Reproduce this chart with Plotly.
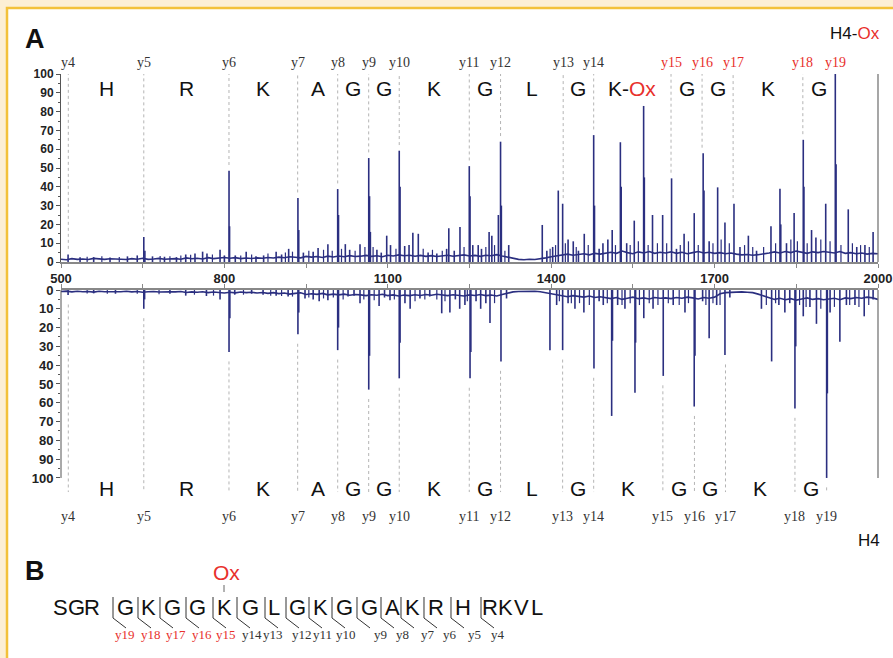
import plotly.graph_objects as go

W, H = 893, 658

# ---------------- data ----------------
base_mz = list(range(500, 2001, 10))
top_base_int = [1.5, 1.2, 1.8, 1.4, 1.6, 1.3, 1.9, 1.5, 1.4, 1.7, 1.5,
                1.6, 1.3, 1.8, 1.5, 2.0, 1.4, 1.6, 1.9, 1.5, 1.7,
                1.8, 1.5, 2.2, 1.7, 2.0, 1.6, 2.3, 1.8, 2.1, 2.4,
                2.0, 2.3, 1.8, 2.1, 1.9, 2.2, 2.0, 2.4, 2.1, 2.6,
                2.3, 2.8, 2.5, 2.2, 3.0, 2.6, 2.9, 2.4, 3.1, 2.7,
                3.2, 2.8, 3.4, 2.9, 3.1, 3.5, 3.0, 3.3, 2.8, 3.6,
                3.2, 3.8, 3.3, 3.6, 3.1, 3.5, 3.0, 3.4, 2.9, 3.3,
                3.6, 3.1, 3.4, 3.8, 3.2, 3.5, 3.0, 3.6, 3.3, 3.9,
                3.2, 2.6, 1.8, 1.4, 1.2, 1.5, 1.3, 1.6, 2.2, 2.8,
                3.4, 3.8, 4.2, 3.6, 4.0, 4.4, 3.8, 4.6, 4.2, 4.8,
                5.2, 4.6, 5.8, 5.0, 4.4, 5.4, 4.8, 5.6, 4.6, 5.2,
                4.8, 5.4, 4.6, 5.2, 4.4, 5.0, 5.6, 4.8, 5.2, 4.6,
                5.0, 4.4, 4.8, 4.2, 3.8, 4.0, 3.6, 3.9, 4.2, 4.8,
                5.4, 4.8, 5.6, 5.0, 5.8, 5.2, 4.6, 5.4, 5.0, 5.6,
                5.2, 4.8, 5.6, 4.6, 5.0, 4.4, 4.8, 4.2, 4.6, 4.4]
bot_base_int = [0.8, 0.6, 1.0, 0.7, 0.9, 0.8, 1.1, 0.7, 0.9, 1.0, 0.8,
                0.9, 0.7, 1.0, 0.8, 1.2, 0.9, 0.8, 1.1, 0.9, 1.0,
                1.0, 0.8, 1.3, 1.0, 1.2, 0.9, 1.4, 1.1, 1.3, 1.6,
                1.2, 1.5, 1.1, 1.4, 1.2, 1.6, 1.3, 1.8, 1.4, 1.9,
                1.6, 2.2, 1.8, 1.5, 2.4, 2.0, 2.3, 1.8, 2.6, 2.2,
                2.6, 2.2, 2.8, 2.4, 2.6, 3.0, 2.5, 2.8, 2.3, 3.0,
                2.6, 3.2, 2.7, 3.0, 2.5, 2.9, 2.4, 2.8, 2.3, 2.7,
                3.0, 2.5, 2.8, 3.2, 2.6, 2.9, 2.4, 3.0, 2.7, 3.2,
                2.4, 1.6, 1.0, 0.8, 0.7, 0.8, 0.7, 0.9, 1.4, 2.2,
                2.8, 3.2, 3.6, 3.0, 3.4, 3.8, 3.2, 4.0, 3.6, 4.2,
                4.6, 4.0, 5.0, 4.4, 3.8, 4.6, 4.2, 4.8, 4.0, 4.4,
                4.2, 4.6, 4.0, 4.4, 3.8, 4.2, 4.8, 4.0, 4.4, 3.8,
                2.0, 1.4, 1.2, 1.0, 1.0, 1.2, 1.4, 2.2, 3.2, 4.2,
                5.0, 4.4, 5.2, 4.6, 5.4, 4.8, 4.2, 5.0, 4.6, 5.2,
                4.8, 4.4, 5.2, 4.2, 4.6, 4.0, 4.4, 3.8, 4.2, 5.0]

top_peak_mz = [513, 535, 560, 590, 622, 640, 652, 654, 668, 690, 712, 729, 746, 760, 768, 792, 800,
               808.5, 809.5, 820, 840, 858, 872, 895, 905, 918, 935, 936.5, 945, 963, 972, 990,
               1008, 1009.5, 1022, 1030, 1049, 1065, 1066.5, 1068, 1080, 1088, 1098, 1105, 1121,
               1122.5, 1131, 1139, 1146, 1156, 1174, 1190, 1208, 1212, 1222, 1232.5, 1249.6, 1251,
               1256, 1266, 1272, 1286, 1291, 1303, 1307, 1308.5, 1322, 1383.6, 1392, 1402.7, 1413,
               1421, 1431, 1440.5, 1450, 1460.7, 1478, 1479.5, 1488, 1495, 1504, 1512, 1527, 1528.5,
               1538.6, 1552.5, 1569.7, 1571, 1586, 1604.6, 1621, 1630, 1644, 1662.6, 1679, 1680.5,
               1690, 1705.6, 1719, 1735.6, 1746.6, 1762, 1777, 1803.5, 1820, 1821.5, 1832, 1846,
               1862.8, 1864, 1878, 1886, 1904, 1921.6, 1923, 1945.4, 1961, 1976, 1991]
top_peak_int = [4, 2.5, 2.6, 2.4, 3, 3.5, 13.3, 6, 3, 2.8, 2.6, 4, 4.5, 5.5, 4.5, 6.5, 3.5,
                48.6, 19, 3.5, 5.5, 3, 3.5, 5.5, 4, 7, 34, 17, 5, 5.5, 7.5, 9.5,
                38.8, 25, 9.5, 6.5, 9.5, 55.3, 35, 16, 6.5, 5, 14, 9, 59.2,
                40, 8.5, 9, 15.5, 15, 5, 4.5, 7, 18, 6, 18.6, 51, 35,
                9, 9, 7, 16, 14, 25, 64, 30, 9, 19.7, 6, 8, 38,
                31, 12, 11, 6, 15, 67.5, 30, 7, 10, 12, 17, 63.7, 40,
                10, 22, 83, 45, 25, 25, 44.5, 7, 15, 26, 57.8, 38,
                11, 39.7, 21, 31, 8, 14, 6, 19, 39, 20, 10, 26,
                65, 40, 17, 13, 31, 100, 52, 28, 8, 9, 16]
# small noise spikes (top)
top_noise_mz = [548, 575, 607, 682, 700, 720, 738, 778, 830, 850, 880, 912, 925, 955, 982, 998,
                1015, 1040, 1058, 1073, 1115, 1165, 1182, 1200, 1240, 1280, 1296, 1315,
                1398, 1408, 1426, 1446, 1468, 1518, 1545, 1560, 1578, 1595, 1612, 1637, 1652, 1670,
                1697, 1712, 1727, 1755, 1770, 1790, 1812, 1840, 1852, 1870, 1895, 1912, 1932, 1953,
                1968, 1984]
top_noise_int = [2.8, 3, 2.6, 3.2, 3, 3.5, 3.8, 4, 3.5, 4, 4.5, 5, 5.5, 6, 6.5, 6,
                 7, 6, 8, 8, 7, 7, 6.5, 6, 8, 8, 9, 6,
                 7, 9, 10, 8, 9, 9, 9, 11, 9, 10, 10, 9, 11, 9,
                 10, 12, 10, 9, 8, 8, 10, 12, 11, 10, 12, 11, 9, 10,
                 9, 8]

bot_peak_mz = [513, 560, 600, 652, 653.5, 700, 729, 767, 792, 808.5, 810, 819, 850, 871, 895, 917,
               935, 936.5, 948, 963, 974, 990, 1008, 1009.5, 1027, 1038, 1049, 1065, 1066.5, 1084,
               1094, 1104, 1121, 1122.5, 1131.5, 1141, 1159, 1177, 1199, 1214, 1224, 1232, 1241.6,
               1251, 1252.5, 1262, 1270.5, 1280, 1287.6, 1307.8, 1318, 1397.7, 1410, 1421, 1431,
               1443.6, 1460, 1478.5, 1488, 1495.6, 1511, 1512.5, 1522, 1535.4, 1553.8, 1555, 1570,
               1587, 1605.7, 1624, 1645.6, 1662.6, 1664, 1678, 1690, 1703.8, 1719, 1728, 1786,
               1804.7, 1818, 1829, 1838, 1847.5, 1849, 1862.8, 1875, 1887, 1905.7, 1907, 1912, 1930,
               1942, 1957.7, 1974.7, 1991]
bot_peak_int = [2.7, 1.8, 2, 10, 5, 2, 3, 3.2, 5, 33, 15, 2.5, 2, 2.5, 3, 3.5,
                23.6, 12, 4.5, 5, 6, 5.5, 32, 20, 3.5, 3, 7, 53, 35, 8.5,
                4, 5.5, 47, 28, 7, 10, 4.5, 3.5, 12.4, 12, 5, 10, 8,
                47, 33, 6, 10, 7, 17.6, 38, 4.5, 32, 8, 32, 7,
                10, 12, 41.7, 6, 8, 67, 27, 8, 10, 54.6, 28, 15,
                10, 45.7, 8, 12, 62, 35, 6, 25.7, 8, 34.6, 4, 10,
                38, 8, 12, 7, 63, 30, 14, 9, 18, 100, 55, 12, 27.5,
                8, 8, 14, 5]
# small noise spikes (bottom)
bot_noise_mz = [548, 585, 640, 680, 745, 780, 835, 885, 905, 925, 955, 982, 1000, 1018, 1056, 1075,
                1112, 1150, 1168, 1190, 1205, 1246, 1296, 1415, 1437, 1452, 1470, 1503, 1530, 1545,
                1562, 1580, 1596, 1615, 1635, 1652, 1684, 1697, 1710, 1795, 1812, 1856, 1868, 1895,
                1920, 1948, 1965, 1983]
bot_noise_int = [1.8, 2, 2, 2.2, 2.5, 3, 2.5, 3, 3.2, 3.5, 4, 4.5, 4, 5, 5, 5.5,
                 5, 6, 5, 5, 6, 6, 7, 6, 7, 7, 8, 7, 8, 7,
                 8, 7, 8, 7, 8, 7, 8, 7, 8, 8, 7, 8, 9, 10,
                 9, 8, 9, 8]

ion_labels = ["y4", "y5", "y6", "y7", "y8", "y9", "y10", "y11", "y12", "y13",
              "y14", "y15", "y16", "y17", "y18", "y19"]
top_ion_mz = [513.4, 652, 808.4, 934.5, 1008, 1064.9, 1121, 1249.6, 1307, 1422,
              1478, 1620, 1677, 1734, 1862, 1921.6]
top_ion_int = [4, 13.3, 48.6, 34, 38.8, 55.3, 59.2, 51, 64, 31, 67.5, 44.5, 57.8, 31, 65, 100]
top_ion_red = [False] * 11 + [True] * 5
bot_ion_mz = [513.4, 652, 808.4, 934.5, 1008, 1064.9, 1121, 1249.6, 1307, 1421,
              1478, 1605, 1663, 1720, 1847.5, 1905.7]
bot_ion_int = [2.7, 10, 33, 23.6, 32, 53, 47, 47, 38, 32, 41.7, 45.7, 62, 34.6, 63, 100]
top_residues = ["H", "R", "K", "A", "G", "G", "K", "G", "L", "G", "K-Ox", "G", "G", "K", "G"]
bot_residues = ["H", "R", "K", "A", "G", "G", "K", "G", "L", "G", "K", "G", "G", "K", "G"]

x_ticks = [500, 800, 1100, 1400, 1700, 2000]
y_ticks = [0, 10, 20, 30, 40, 50, 60, 70, 80, 90, 100]

seq_letters = list("SGRGKGGKGLGKGGAKRHRKVL")
seq_x = [60, 76, 92, 126, 148, 172, 197, 224, 250, 274, 297, 320, 344, 369,
         392, 412, 436, 463, 490, 505, 521, 537]
cleave_x = [113, 138, 160, 186, 213, 237, 265, 286, 309, 332, 357, 381, 401, 424, 451, 481]
cleave_labels = ["y19", "y18", "y17", "y16", "y15", "y14", "y13", "y12", "y11", "y10",
                 "y9", "y8", "y7", "y6", "y5", "y4"]
cleave_label_x = [125, 151, 176, 202, 226, 252, 273, 302, 322, 346, 380, 402, 428, 450, 474, 498]
cleave_red = [True] * 5 + [False] * 11

# ---------------- styling ----------------
NAVY = "#2b2f80"
RED = "#e8302c"
GOLD = "#f3c13a"
CREAM = "#fcefd5"
DOT = "#b4b4b4"
SANS = "Liberation Sans, Arial, sans-serif"
SERIF = "Liberation Serif, Times New Roman, serif"
TICKF = "Liberation Sans Narrow, Liberation Sans, Arial, sans-serif"


def px(x):
    return x / W


def py(y):
    return 1 - y / H


X_DOM = [px(61), px(878)]
TOP_DOM = [py(262), py(74)]
BOT_DOM = [py(493), py(290)]


def sticks(mz, inten):
    xs, ys = [], []
    for m, v in zip(mz, inten):
        xs += [m, m, None]
        ys += [0, v, None]
    return xs, ys


def dotted(mz, y0s, y1s):
    xs, ys = [], []
    for m, a, b in zip(mz, y0s, y1s):
        if a < b:
            xs += [m, m, None]
            ys += [a, b, None]
    return xs, ys


fig = go.Figure()

# dotted ion lines (behind spectra)
tx, ty = dotted(top_ion_mz, [v + 3 for v in top_ion_int], [100] * len(top_ion_int))
fig.add_trace(go.Scatter(x=tx, y=ty, mode="lines", line=dict(color=DOT, width=1, dash="dot"),
                         xaxis="x", yaxis="y", hoverinfo="skip"))
bx, by = dotted(bot_ion_mz, [v + 5 for v in bot_ion_int], [107.5] * len(bot_ion_int))
fig.add_trace(go.Scatter(x=bx, y=by, mode="lines", line=dict(color=DOT, width=1, dash="dot"),
                         xaxis="x2", yaxis="y2", hoverinfo="skip"))

# spectra
for mzs, ints, xa, ya, w in [(top_noise_mz, top_noise_int, "x", "y", 1.2),
                             (top_peak_mz, top_peak_int, "x", "y", 1.6),
                             (bot_noise_mz, bot_noise_int, "x2", "y2", 1.2),
                             (bot_peak_mz, bot_peak_int, "x2", "y2", 1.6)]:
    sx, sy = sticks(mzs, ints)
    fig.add_trace(go.Scatter(x=sx, y=sy, mode="lines", line=dict(color=NAVY, width=w),
                             xaxis=xa, yaxis=ya, hoverinfo="skip"))
fig.add_trace(go.Scatter(x=base_mz, y=top_base_int, mode="lines", line=dict(color=NAVY, width=1.6),
                         xaxis="x", yaxis="y", hoverinfo="skip"))
fig.add_trace(go.Scatter(x=base_mz, y=bot_base_int, mode="lines", line=dict(color=NAVY, width=1.6),
                         xaxis="x2", yaxis="y2", hoverinfo="skip"))

ann = []
shapes = []


def note(x, y, text, font, xref="paper", yref="paper", xanchor="center"):
    ann.append(dict(x=x, y=y, xref=xref, yref=yref, text=text, showarrow=False,
                    xanchor=xanchor, yanchor="middle", font=font))


# background panel
shapes.append(dict(type="rect", xref="paper", yref="paper", x0=px(7), x1=1.02, y0=-0.02, y1=py(8),
                   fillcolor="white", line=dict(color=GOLD, width=2.5), layer="below"))

# axis line pieces
shapes.append(dict(type="line", xref="paper", yref="y2", x0=X_DOM[0], x1=X_DOM[0], y0=0, y1=100,
                   line=dict(color="#555", width=1)))
shapes.append(dict(type="line", xref="paper", yref="y2", x0=X_DOM[1], x1=X_DOM[1], y0=0, y1=100,
                   line=dict(color="#777", width=1.3)))
shapes.append(dict(type="line", xref="paper", yref="y", x0=X_DOM[1], x1=X_DOM[1], y0=0, y1=100,
                   line=dict(color="#777", width=1.3)))

# ion labels + residue letters
for i, lab in enumerate(ion_labels):
    note(top_ion_mz[i], py(63), lab, dict(family=SERIF, size=14, color=RED if top_ion_red[i] else "#333"),
         xref="x")
    note(bot_ion_mz[i], py(516), lab, dict(family=SERIF, size=14, color="#333"), xref="x2")
for i, r in enumerate(top_residues):
    xm = (top_ion_mz[i] + top_ion_mz[i + 1]) / 2
    txt = r.replace("Ox", "<span style='color:%s'>Ox</span>" % RED)
    note(xm, py(88), txt, dict(family=SANS, size=21, color="#111"), xref="x")
for i, r in enumerate(bot_residues):
    xm = (bot_ion_mz[i] + bot_ion_mz[i + 1]) / 2
    note(xm, py(488), r, dict(family=SANS, size=21, color="#111"), xref="x2")

# panel letters & titles
note(px(35), py(39), "<b>A</b>", dict(family=SANS, size=27, color="#111"))
note(px(35), py(571), "<b>B</b>", dict(family=SANS, size=27, color="#111"))
note(px(882), py(33), "H4-<span style='color:%s'>Ox</span>" % RED,
     dict(family=SANS, size=17, color="#111"), xanchor="right")
note(px(882), py(540), "H4", dict(family=SANS, size=17, color="#111"), xanchor="right")

# part B sequence
for ch, x in zip(seq_letters, seq_x):
    note(px(x), py(607), ch, dict(family=SANS, size=22, color="#111"))
note(px(226), py(572), "Ox", dict(family=SANS, size=21, color=RED))
shapes.append(dict(type="line", xref="paper", yref="paper", x0=px(224), x1=px(224), y0=py(585), y1=py(592),
                   line=dict(color="#666", width=1)))
for c in cleave_x:
    path = "M %f %f L %f %f L %f %f" % (px(c), py(597), px(c), py(618), px(c + 13), py(628))
    shapes.append(dict(type="path", xref="paper", yref="paper", path=path,
                       line=dict(color="#333", width=1)))
for lab, x, red in zip(cleave_labels, cleave_label_x, cleave_red):
    note(px(x), py(634), lab, dict(family=SERIF, size=13, color=RED if red else "#333"))

bold = lambda v: ["<b>%s</b>" % t for t in v]

fig.update_layout(
    width=W, height=H, margin=dict(l=0, r=0, t=0, b=0, pad=0, autoexpand=False),
    paper_bgcolor=CREAM, plot_bgcolor="rgba(0,0,0,0)", showlegend=False,
    xaxis=dict(domain=X_DOM, anchor="y", range=[500, 2000], showgrid=False, zeroline=False,
               automargin=False,
               showline=True, linecolor="#888", linewidth=1.5, ticks="outside", ticklen=4,
               tickcolor="#888", tickvals=x_ticks, ticktext=bold([str(v) for v in x_ticks]),
               tickfont=dict(family=TICKF, size=13, color="#222"),
               minor=dict(tickvals=[650, 950, 1250, 1550, 1850], ticks="outside", ticklen=4,
                          tickcolor="#888")),
    yaxis=dict(domain=TOP_DOM, anchor="x", range=[0, 100], showgrid=False, zeroline=False,
               automargin=False,
               showline=True, linecolor="#555", linewidth=1, ticks="outside", ticklen=4,
               tickcolor="#555", tickvals=y_ticks, ticktext=bold([str(v) for v in y_ticks]),
               tickfont=dict(family=TICKF, size=12, color="#222"),
               minor=dict(dtick=5, tick0=0, ticks="outside", ticklen=2, tickcolor="#555")),
    xaxis2=dict(domain=X_DOM, anchor="y2", side="top", range=[500, 2000], showgrid=False,
                automargin=False,
                zeroline=False, showline=True, linecolor="#888", linewidth=1.5, ticks="outside",
                ticklen=4, tickcolor="#888", tickvals=x_ticks, showticklabels=False,
                minor=dict(tickvals=[650, 950, 1250, 1550, 1850], ticks="outside", ticklen=4,
                           tickcolor="#888")),
    yaxis2=dict(domain=BOT_DOM, anchor="x2", range=[108, 0], showgrid=False, zeroline=False,
                automargin=False,
                showline=False, ticks="outside", ticklen=4, tickcolor="#555", tickvals=y_ticks,
                ticktext=bold([str(v) for v in y_ticks]),
                tickfont=dict(family=TICKF, size=13, color="#222"),
                minor=dict(tickvals=[5, 15, 25, 35, 45, 55, 65, 75, 85, 95], ticks="outside",
                           ticklen=2, tickcolor="#555")),
    annotations=ann, shapes=shapes,
)

fig.write_html("out.html", config={"displayModeBar": False},
               post_script="document.body.style.margin='0px';document.body.style.padding='0px';"
                           "document.body.style.background='%s';" % CREAM)
